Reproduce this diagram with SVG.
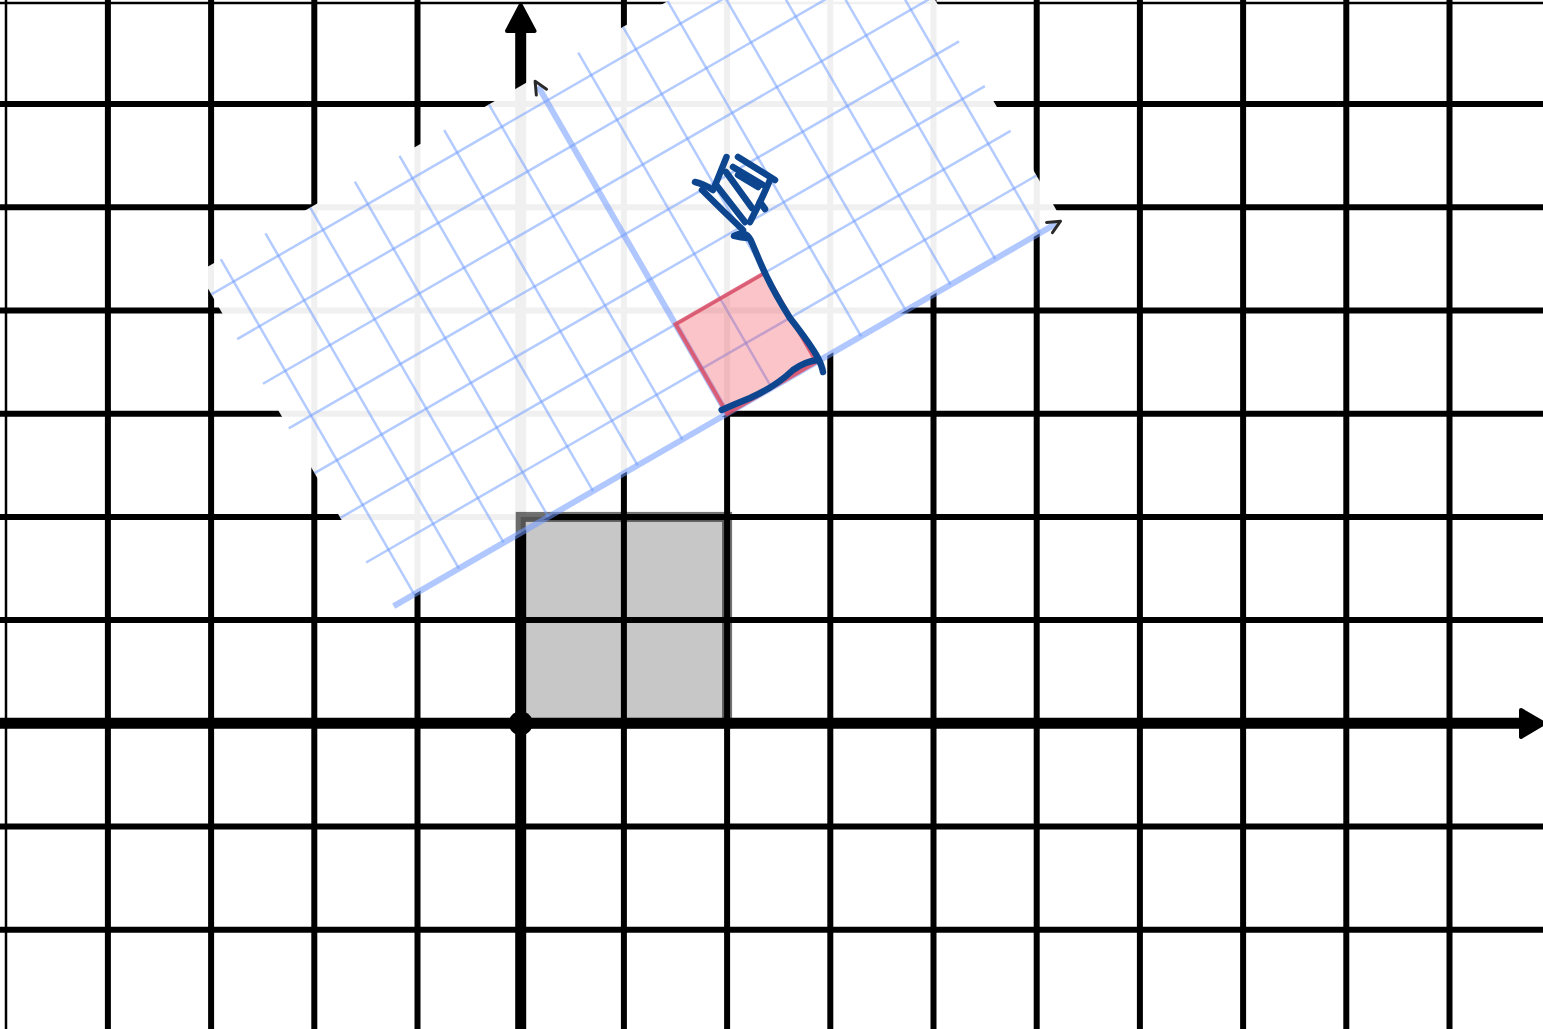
<svg xmlns="http://www.w3.org/2000/svg" width="1543" height="1029" viewBox="0 0 1543 1029">
<defs>
<style>
.g{stroke:#000;stroke-width:6;fill:none}
.ax{stroke:#000;stroke-width:11;fill:none}
.bt{stroke:#6f9bff;stroke-opacity:0.52;stroke-width:2.5;fill:none}
.bk{stroke:#6f9bff;stroke-opacity:0.55;stroke-width:6;fill:none}
.chev{stroke:#2a2a2a;stroke-width:3;fill:none;stroke-linecap:round;stroke-linejoin:round}
.ink{stroke:#0d468f;stroke-width:6.5;fill:none;stroke-linecap:round;stroke-linejoin:round}
</style>
</defs>
<rect width="1543" height="1029" fill="#fff"/>
<g id="grid">
<line class="g" x1="6" y1="0" x2="6" y2="1029" style="stroke-width:2.5"/>
<line class="g" x1="0" y1="3" x2="1543" y2="3" style="stroke-width:2.5"/>
<line class="g" x1="107.9" y1="0" x2="107.9" y2="1029"/>
<line class="g" x1="211.1" y1="0" x2="211.1" y2="1029"/>
<line class="g" x1="314.3" y1="0" x2="314.3" y2="1029"/>
<line class="g" x1="417.5" y1="0" x2="417.5" y2="1029"/>
<line class="g" x1="623.9" y1="0" x2="623.9" y2="1029"/>
<line class="g" x1="727.1" y1="0" x2="727.1" y2="1029"/>
<line class="g" x1="830.3" y1="0" x2="830.3" y2="1029"/>
<line class="g" x1="933.5" y1="0" x2="933.5" y2="1029"/>
<line class="g" x1="1036.7" y1="0" x2="1036.7" y2="1029"/>
<line class="g" x1="1139.9" y1="0" x2="1139.9" y2="1029"/>
<line class="g" x1="1243.1" y1="0" x2="1243.1" y2="1029"/>
<line class="g" x1="1346.3" y1="0" x2="1346.3" y2="1029"/>
<line class="g" x1="1449.5" y1="0" x2="1449.5" y2="1029"/>
<line class="g" x1="0" y1="104.1" x2="1543" y2="104.1"/>
<line class="g" x1="0" y1="207.3" x2="1543" y2="207.3"/>
<line class="g" x1="0" y1="310.5" x2="1543" y2="310.5"/>
<line class="g" x1="0" y1="413.7" x2="1543" y2="413.7"/>
<line class="g" x1="0" y1="516.9" x2="1543" y2="516.9"/>
<line class="g" x1="0" y1="620.1" x2="1543" y2="620.1"/>
<line class="g" x1="0" y1="826.5" x2="1543" y2="826.5"/>
<line class="g" x1="0" y1="929.7" x2="1543" y2="929.7"/>
</g>
<g id="axes">
<line class="ax" x1="0" y1="723.3" x2="1525" y2="723.3"/>
<line class="ax" x1="520.7" y1="1029" x2="520.7" y2="28"/>
<polygon points="1521,710 1544,723.3 1521,737" fill="#000" stroke="#000" stroke-width="4" stroke-linejoin="round"/>
<polygon points="507,31 520.7,5 534.5,31" fill="#000" stroke="#000" stroke-width="4" stroke-linejoin="round"/>
<circle cx="520.7" cy="723.3" r="12" fill="#000"/>
</g>
<g id="overlay" transform="translate(727.1,413.7) rotate(-30)">
<rect x="-387" y="-387" width="774" height="387" fill="#fff" fill-opacity="0.94"/>
</g>
<g id="gray-square">
<rect x="520.7" y="516.9" width="206.4" height="206.4" fill="#000" fill-opacity="0.22" stroke="#000" stroke-opacity="0.55" stroke-width="10"/>
</g>
<g id="rotated-grid" transform="translate(727.1,413.7) rotate(-30)">
<g class="bt">
<line x1="-361.2" y1="-387" x2="-361.2" y2="0"/>
<line x1="-309.6" y1="-387" x2="-309.6" y2="0"/>
<line x1="-258" y1="-387" x2="-258" y2="0"/>
<line x1="-206.4" y1="-387" x2="-206.4" y2="0"/>
<line x1="-154.8" y1="-387" x2="-154.8" y2="0"/>
<line x1="-103.2" y1="-387" x2="-103.2" y2="0"/>
<line x1="-51.6" y1="-387" x2="-51.6" y2="0"/>
<line x1="51.6" y1="-387" x2="51.6" y2="0"/>
<line x1="103.2" y1="-387" x2="103.2" y2="0"/>
<line x1="154.8" y1="-387" x2="154.8" y2="0"/>
<line x1="206.4" y1="-387" x2="206.4" y2="0"/>
<line x1="258" y1="-387" x2="258" y2="0"/>
<line x1="309.6" y1="-387" x2="309.6" y2="0"/>
<line x1="361.2" y1="-387" x2="361.2" y2="0"/>
<line x1="-387" y1="-51.6" x2="387" y2="-51.6"/>
<line x1="-387" y1="-103.2" x2="387" y2="-103.2"/>
<line x1="-387" y1="-154.8" x2="387" y2="-154.8"/>
<line x1="-387" y1="-206.4" x2="387" y2="-206.4"/>
<line x1="-387" y1="-258" x2="387" y2="-258"/>
<line x1="-387" y1="-309.6" x2="387" y2="-309.6"/>
<line x1="-387" y1="-361.2" x2="387" y2="-361.2"/>
</g>
<line class="bk" x1="-385" y1="0" x2="380" y2="0"/>
<line class="bk" x1="0" y1="0" x2="0" y2="-378"/>
<polyline class="chev" points="372.3,-5.9 385,0 372.3,5.9"/>
<polyline class="chev" points="-5.9,-371.3 0,-384 5.9,-371.3"/>
</g>
<g id="red-square" transform="translate(727.1,413.7) rotate(-30)">
<rect x="0" y="-103.2" width="103.2" height="103.2" fill="#f03c4b" fill-opacity="0.3" stroke="#e0485c" stroke-opacity="0.8" stroke-width="4"/>
</g>
<g id="sketch" class="ink">
<path d="M695,182 Q704,184 713,190"/>
<path d="M726.5,157 L714,188"/>
<path d="M738,157 L775,180"/>
<path d="M733,167 L763,185"/>
<path d="M738,175 L758,187"/>
<path d="M770,180 Q761,201 750,222"/>
<path d="M702,190 Q722,210 743,230"/>
<path d="M717,186 L745,222"/>
<path d="M726,172 L752,208"/>
<path d="M760,202 L765,209"/>
<path d="M734,236 Q741,238 747,238"/>
<path d="M736,235 Q747,230 752,243 L760,262 Q772,290 790,318 Q811,345 818,358 Q822,366 823,372"/>
<path d="M721.7,410 Q735,404 750,398 Q775,387 793,370 Q806,361 818,360"/>
</g>
</svg>
